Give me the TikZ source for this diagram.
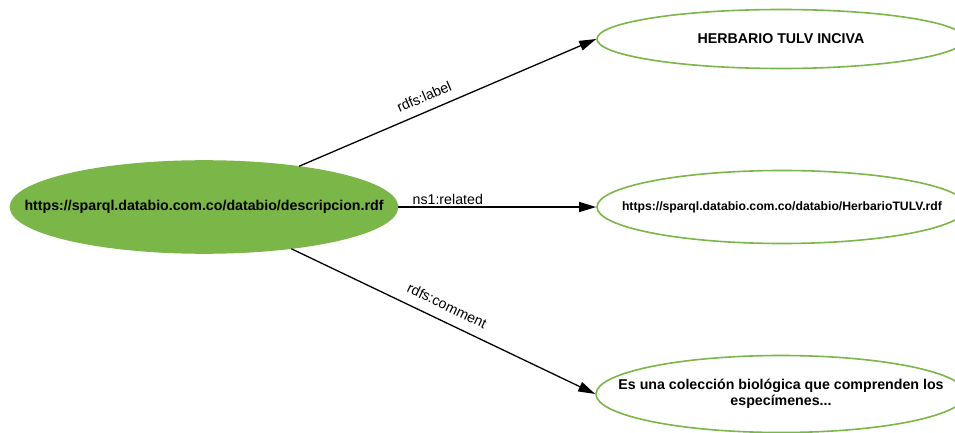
\documentclass[tikz,border=0pt]{standalone}
\usepackage{fontspec}
\setmainfont{Liberation Sans}
\usetikzlibrary{shapes.geometric,arrows.meta}
\definecolor{verde}{HTML}{7AB648}
\newcommand{\ctexto}[1]{\makebox[0pt]{#1}}

\begin{document}
\begin{tikzpicture}
        [x=1pt,y=-1pt,every node/.style={ellipse,draw=verde,line width=1.6pt,inner sep=0pt,font=\bfseries\fontsize{14.2}{17}\selectfont}]
        \useasboundingbox (0,0) rectangle (955,433);
        \clip (0,0) rectangle (955,433);

        % sujeto
        \node[fill=verde,minimum width=387pt,minimum height=92pt]
                (S) at      (204,207)       {\ctexto{https://sparql.databio.com.co/databio/descripcion.rdf}};

        % objetos
        \node[minimum width=368pt,minimum height=59pt]
                (O1) at     (781,39)        {\ctexto{HERBARIO TULV INCIVA}};
        \node[minimum width=370pt,minimum height=73pt,font=\bfseries\fontsize{12.2}{14}\selectfont]
                (O2) at     (782,207)       {\ctexto{https://sparql.databio.com.co/databio/HerbarioTULV.rdf}};
        \node[minimum width=370pt,minimum height=77pt]
                (O3) at     (781,394)       {\ctexto{\begin{tabular}{@{}c@{}}Es una colección biológica que comprenden los\\[-1pt]especímenes...\end{tabular}}};

        \draw[-{Triangle[length=17pt,width=10pt]}, line width=1.3pt, every node/.style={sloped,anchor=south,auto=false,inner sep=2pt,font=\fontsize{14.2}{17}\selectfont}]
        (S)         edge        node[pos=0.44,yshift=7pt] {rdfs:label}      (O1.west)
        (S)         edge        node[pos=0.25] {ns1:related}                (O2.west)
        (S)         edge        node[pos=0.49,yshift=8pt] {rdfs:comment}    (O3.west);
    \end{tikzpicture}
\end{document}
